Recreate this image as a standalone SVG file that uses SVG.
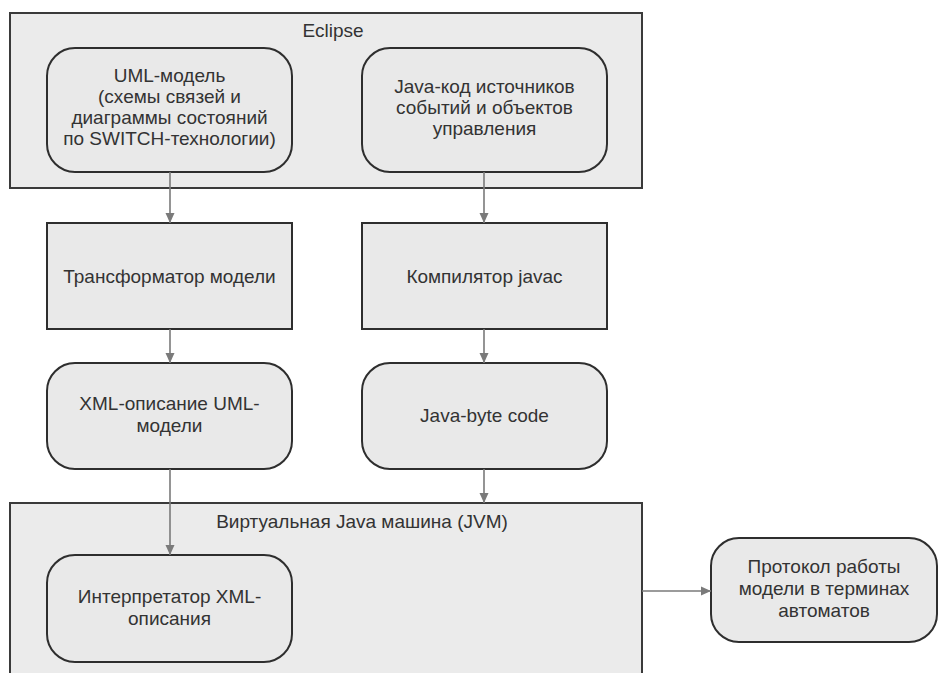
<svg xmlns="http://www.w3.org/2000/svg" width="945" height="673" viewBox="0 0 945 673">
<style>
.frame{fill:#ebebeb;stroke:#3a3a3a;stroke-width:2}
.node{fill:#e9e9e9;stroke:#2e2e2e;stroke-width:2}
.t{font-family:"Liberation Sans",Arial,sans-serif;font-size:19px;fill:#333;text-anchor:middle}
.c{stroke:#7a7a7a;stroke-width:1.6;fill:none;marker-end:url(#ah)}
</style>
<defs>
<marker id="ah" viewBox="0 0 10 10" refX="10" refY="5" markerWidth="10" markerHeight="10" markerUnits="userSpaceOnUse" orient="auto">
<path d="M0,0.5 L10,5 L0,9.5 Z" fill="#7a7a7a"/>
</marker>
</defs>
<rect width="945" height="673" fill="#ffffff"/>
<g id="eclipse">
<rect class="frame" x="10" y="13" width="632" height="175"/>
<text class="t" x="333" y="37">Eclipse</text>
</g>
<g id="jvm">
<rect class="frame" x="10" y="503" width="632" height="185"/>
<text class="t" x="362" y="528">Виртуальная Java машина (JVM)</text>
</g>
<g id="uml">
<rect class="node" x="47" y="48" width="245" height="124" rx="28" ry="28"/>
<text class="t" x="169.5" y="82">UML-модель</text>
<text class="t" x="169.5" y="103">(схемы связей и</text>
<text class="t" x="169.5" y="124">диаграммы состояний</text>
<text class="t" x="169.5" y="145">по SWITCH-технологии)</text>
</g>
<g id="javacode">
<rect class="node" x="362" y="48" width="245" height="124" rx="28" ry="28"/>
<text class="t" x="484.5" y="93">Java-код источников</text>
<text class="t" x="484.5" y="114">событий и объектов</text>
<text class="t" x="484.5" y="135">управления</text>
</g>
<g id="transformer">
<rect class="node" x="47" y="223" width="245" height="106"/>
<text class="t" x="169.5" y="283">Трансформатор модели</text>
</g>
<g id="compiler">
<rect class="node" x="362" y="223" width="245" height="106"/>
<text class="t" x="484.5" y="283">Компилятор javac</text>
</g>
<g id="xml">
<rect class="node" x="47" y="363" width="245" height="106" rx="28" ry="28"/>
<text class="t" x="169.5" y="410">XML-описание UML-</text>
<text class="t" x="169.5" y="432">модели</text>
</g>
<g id="bytecode">
<rect class="node" x="362" y="363" width="245" height="106" rx="28" ry="28"/>
<text class="t" x="484.5" y="422">Java-byte code</text>
</g>
<g id="interpreter">
<rect class="node" x="47" y="555" width="245" height="107" rx="28" ry="28"/>
<text class="t" x="169.5" y="603">Интерпретатор XML-</text>
<text class="t" x="169.5" y="625">описания</text>
</g>
<g id="protocol">
<rect class="node" x="711" y="538" width="226" height="104" rx="28" ry="28"/>
<text class="t" x="824" y="573">Протокол работы</text>
<text class="t" x="824" y="595">модели в терминах</text>
<text class="t" x="824" y="617">автоматов</text>
</g>
<g id="connectors">
<line class="c" x1="170" y1="172" x2="170" y2="223"/>
<line class="c" x1="484" y1="172" x2="484" y2="223"/>
<line class="c" x1="170" y1="329" x2="170" y2="363"/>
<line class="c" x1="484" y1="329" x2="484" y2="363"/>
<line class="c" x1="170" y1="469" x2="170" y2="555"/>
<line class="c" x1="484" y1="469" x2="484" y2="503"/>
<line class="c" x1="642" y1="591" x2="711" y2="591"/>
</g>
</svg>
